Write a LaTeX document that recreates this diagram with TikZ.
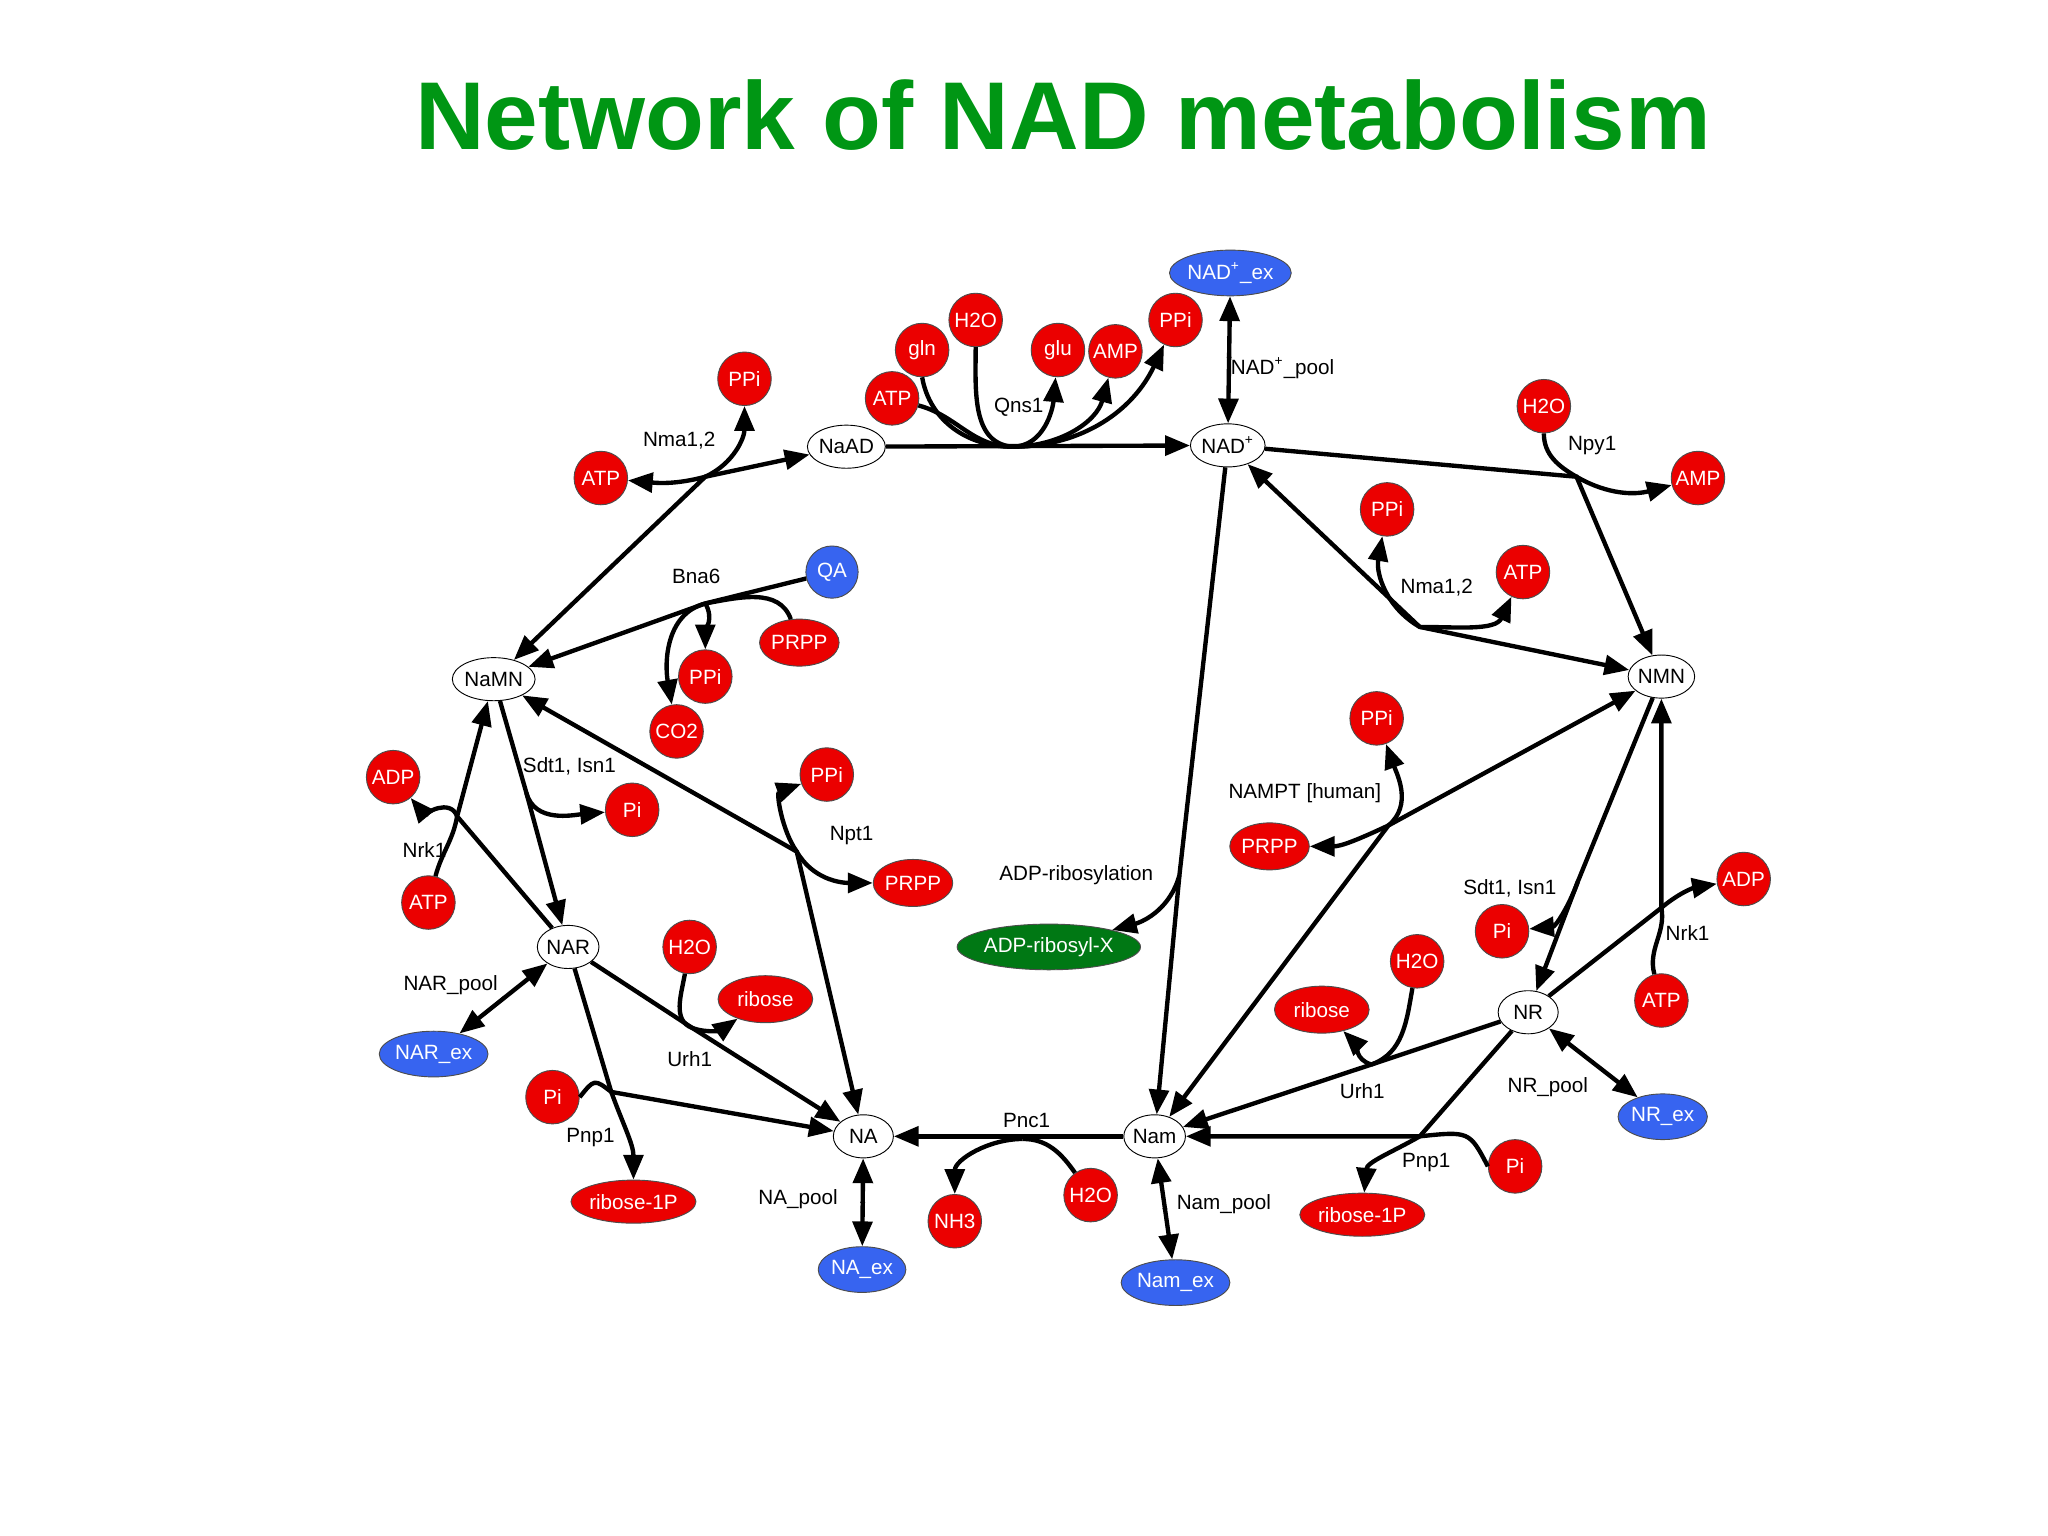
\documentclass[tikz,border=0pt]{standalone}
\usepackage{fontspec}
\setmainfont{Liberation Sans}
\usetikzlibrary{arrows.meta,shapes.geometric}
\definecolor{mred}{RGB}{235,0,0}
\definecolor{mblue}{RGB}{55,100,240}
\definecolor{mgreen}{RGB}{0,120,20}
\definecolor{tgreen}{RGB}{0,150,20}
\begin{document}
\begin{tikzpicture}[x=0.02cm,y=-0.02cm,
  font=\fontsize{9}{10}\selectfont,
  met/.style={ellipse,draw=black,thin,fill=white,minimum width=0.92cm,minimum height=0.66cm,inner sep=0pt},
  rc/.style={circle,draw=black!70,thin,fill=mred,text=white,minimum size=0.82cm,inner sep=0pt},
  re/.style={ellipse,draw=black!70,thin,fill=mred,text=white,minimum height=0.72cm,inner sep=0pt},
  be/.style={ellipse,draw=black!70,thin,fill=mblue,text=white,minimum height=0.7cm,inner sep=0pt},
  lab/.style={font=\fontsize{9}{10}\selectfont},
  ln/.style={line width=1.9pt},
  arr/.style={ln,-{Triangle[length=0.38cm,width=0.3cm]}},
  dbl/.style={ln,{Triangle[length=0.38cm,width=0.3cm]}-{Triangle[length=0.38cm,width=0.3cm]}},
  dot/.style={fill=black,inner sep=0pt,minimum size=3pt,diamond,shape aspect=1}]
\path[use as bounding box,fill=white] (0,0) rectangle (1568,1176);
\node[text=tgreen,font=\fontsize{42}{50}\selectfont\bfseries] (title) at (814,88) {Network of NAD metabolism};
% main metabolites
\node[met] (NaAD) at (648,342) {NaAD};
\node[met] (NADp) at (940,341) {NAD\textsuperscript{+}};
\node[met] (NaMN) at (378,520) {NaMN};
\node[met] (NMN) at (1272,518) {NMN};
\node[met] (NAR) at (435,725) {NAR};
\node[met] (NR) at (1170,775) {NR};
\node[met] (NA) at (661,870) {NA};
\node[met] (Nam) at (884,870) {Nam};
% red
\node[rc] (PPi1) at (570,290) {PPi};
\node[rc] (ATP1) at (460,366) {ATP};
\node[rc] (gln) at (706,268) {gln};
\node[rc] (H2Oa) at (747,245) {H2O};
\node[rc] (ATP2) at (683,305) {ATP};
\node[rc] (glu) at (810,268) {glu};
\node[rc] (AMP1) at (854,269) {AMP};
\node[rc] (PPi2) at (900,245) {PPi};
\node[rc] (H2Ob) at (1182,311) {H2O};
\node[rc] (AMP2) at (1300,366) {AMP};
\node[rc] (PPi5) at (1062,390) {PPi};
\node[rc] (ATP4) at (1166,438) {ATP};
\node[rc] (PPi3) at (540,518) {PPi};
\node[rc] (CO2) at (518,560) {CO2};
\node[re,minimum width=1.2cm] (PRPP1) at (612,492) {PRPP};
\node[be,circle,minimum size=0.8cm] (QA) at (637,438) {QA};
\node[rc] (ADP1) at (301,595) {ADP};
\node[rc] (Pi1) at (484,620) {Pi};
\node[rc] (ATP3) at (328,691) {ATP};
\node[rc] (PPi4) at (633,593) {PPi};
\node[re,minimum width=1.2cm] (PRPP2) at (699,676) {PRPP};
\node[rc] (H2Oc) at (528,725) {H2O};
\node[re,minimum width=1.45cm] (ribose1) at (586,765) {ribose};
\node[rc] (Pi2) at (423,840) {Pi};
\node[re,minimum width=1.9cm,minimum height=0.66cm] (rib1P1) at (485,920) {ribose-1P};
\node[rc] (NH3) at (731,935) {NH3};
\node[rc] (H2Od) at (835,915) {H2O};
\node[rc] (PPi6) at (1054,550) {PPi};
\node[re,minimum width=1.2cm] (PRPP3) at (972,648) {PRPP};
\node[rc] (Pi3) at (1150,713) {Pi};
\node[rc] (ADP2) at (1335,673) {ADP};
\node[rc] (ATP5) at (1272,766) {ATP};
\node[rc] (H2Oe) at (1085,736) {H2O};
\node[re,minimum width=1.45cm] (ribose2) at (1012,773) {ribose};
\node[rc] (Pi4) at (1160,893) {Pi};
\node[re,minimum width=1.9cm,minimum height=0.66cm] (rib1P2) at (1043,930) {ribose-1P};
% blue / green
\node[be,minimum width=1.4cm] (NADex) at (942,209) {NAD\textsuperscript{+}\_ex};
\node[be,minimum width=1.4cm] (NARex) at (332,807) {NAR\_ex};
\node[be,minimum width=1.25cm] (NAex) at (660,972) {NA\_ex};
\node[be,minimum width=1.4cm] (Namex) at (900,982) {Nam\_ex};
\node[be,minimum width=1.25cm] (NRex) at (1273,855) {NR\_ex};
\node[ellipse,draw=black!70,thin,fill=mgreen,text=white,minimum width=2.7cm,minimum height=0.7cm,inner sep=0pt] (ADPX) at (803,725) {ADP-ribosyl-X};
% junctions
\coordinate (jq) at (775,342);
\coordinate (jn1) at (540,365);
\coordinate (jb) at (540,462);
\coordinate (js) at (403,607);
\coordinate (jk) at (350,625);
\coordinate (jp) at (610,652);
\coordinate (ju) at (530,787);
\coordinate (jpn) at (468,836);
\coordinate (jc) at (783,872);
\coordinate (jr) at (903,670);
\coordinate (jy) at (1207,365);
\coordinate (jm) at (1087,480);
\coordinate (ja) at (1063,632);
\coordinate (jt) at (1208,675);
\coordinate (jk2) at (1272,695);
\coordinate (ju2) at (1050,815);
\coordinate (jp2) at (1087,870);
% Qns1
\draw[arr] (NaAD) -- (NADp);
\draw[ln] (ATP2) to[out=-15,in=180] (jq);
\draw[ln] (gln.south) to[out=-80,in=180] (jq);
\draw[ln] (H2Oa.south) to[out=-90,in=175] (jq);
\draw[arr] (jq) to[out=0,in=-95] (glu);
\draw[arr] (jq) to[out=0,in=-105] (AMP1);
\draw[arr] (jq) to[out=0,in=-115] (PPi2);
\node[lab] at (780,312) {Qns1};
% Nma1,2 left
\draw[dbl] (NaMN) -- (jn1) -- (NaAD);
\draw[arr] (jn1) to[out=-165,in=-5] (ATP1);
\draw[arr] (jn1) to[out=25,in=-90] (PPi1);
\node[lab] at (520,337) {Nma1,2};
% Bna6
\draw[arr] (QA) -- (jb) -- (NaMN);
\draw[ln] (PRPP1) to[out=110,in=10] (jb);
\draw[arr] (jb) to[out=-60,in=90] (PPi3);
\draw[arr] (jb) to[out=195,in=100] (CO2);
\node[lab] at (533,441) {Bna6};
% Sdt1 left
\draw[arr] (NaMN) -- (js) -- (NAR);
\draw[arr] (js) to[out=-75,in=185] (Pi1);
\node[lab] at (436,587) {Sdt1, Isn1};
% Nrk1 left
\draw[arr] (NAR) -- (jk) -- (NaMN);
\draw[ln] (ATP3) to[out=75,in=-100] (jk);
\draw[arr] (jk) to[out=110,in=-50] (ADP1);
\node[lab] at (325,651) {Nrk1};
% Npt1
\draw[dbl] (NaMN) -- (jp) -- (NA);
\draw[arr] (jp) to[out=125,in=200] (PPi4);
\draw[arr] (jp) to[out=-60,in=180] (PRPP2);
\node[lab] at (652,640) {Npt1};
% Urh1 left
\draw[arr] (NAR) -- (ju) -- (NA);
\draw[ln] (H2Oc) to[out=-100,in=160] (ju);
\draw[arr] (ju) to[out=-20,in=-145] (ribose1);
\node[lab] at (528,811) {Urh1};
% Pnp1 left
\draw[ln] (NAR) -- (jpn);
\draw[arr] (jpn) to[out=-70,in=90] (rib1P1);
\draw[arr] (Pi2.east) .. controls (455,826) .. (jpn) -- (NA);
\node[lab] at (452,871) {Pnp1};
% pools
\draw[dbl] (NARex) -- node[dot]{} (NAR);
\node[lab] at (345,754) {NAR\_pool};
\draw[dbl] (NA) -- node[dot]{} (NAex);
\node[lab] at (611,918) {NA\_pool};
\draw[dbl] (Nam) -- node[dot]{} (Namex);
\node[lab] at (937,922) {Nam\_pool};
\draw[dbl] (NADex) -- node[dot,pos=0.48]{} (NADp);
\node[lab] at (982,282) {NAD\textsuperscript{+}\_pool};
\draw[dbl] (NR) -- node[dot]{} (NRex);
\node[lab] at (1185,832) {NR\_pool};
% Pnc1
\draw[arr] (Nam) -- (NA);
\draw[ln] (H2Od) to[out=125,in=0] (jc);
\draw[arr] (jc) to[out=180,in=90] (NH3);
\node[lab] at (786,858) {Pnc1};
% ADP-ribosylation
\draw[arr] (NADp) -- (jr) -- (Nam);
\draw[arr] (jr) to[out=-105,in=15] (ADPX);
\node[lab] at (824,670) {ADP-ribosylation};
% Npy1
\draw[arr] (NADp) -- (jy) -- (NMN);
\draw[ln] (H2Ob) to[out=-90,in=150] (jy);
\draw[arr] (jy) to[out=-30,in=195] (AMP2);
\node[lab] at (1219,341) {Npy1};
% Nma1,2 right
\draw[dbl] (NMN) -- (jm) -- (NADp);
\draw[arr] (jm) to[out=150,in=-100] (PPi5);
\draw[arr] (jm) to[out=0,in=-115] (ATP4);
\node[lab] at (1100,450) {Nma1,2};
% NAMPT
\draw[dbl] (Nam) -- (ja) -- (NMN);
\draw[arr] (ja) to[out=40,in=-70] (PPi6);
\draw[arr] (ja) to[out=205,in=0] (PRPP3);
\node[lab] at (999,607) {NAMPT [human]};
% Sdt1 right
\draw[arr] (NMN) -- (jt) -- (NR);
\draw[arr] (jt) to[out=-110,in=5] (Pi3);
\node[lab] at (1156,680) {Sdt1, Isn1};
% Nrk1 right
\draw[arr] (NR) -- (jk2) -- (NMN);
\draw[ln] (ATP5) to[out=105,in=-80] (jk2);
\draw[arr] (jk2) to[out=40,in=190] (ADP2);
\node[lab] at (1292,714) {Nrk1};
% Urh1 right
\draw[arr] (NR) -- (ju2) -- (Nam);
\draw[ln] (H2Oe) to[out=-100,in=20] (ju2);
\draw[arr] (ju2) to[out=165,in=-45] (ribose2);
\node[lab] at (1043,835) {Urh1};
% Pnp1 right
\draw[ln] (NR) -- (jp2);
\draw[arr] (Pi4.west) .. controls (1125,866) .. (jp2) -- (Nam);
\draw[arr] (jp2) to[out=-150,in=85] (rib1P2);
\node[lab] at (1092,890) {Pnp1};
\end{tikzpicture}
\end{document}
